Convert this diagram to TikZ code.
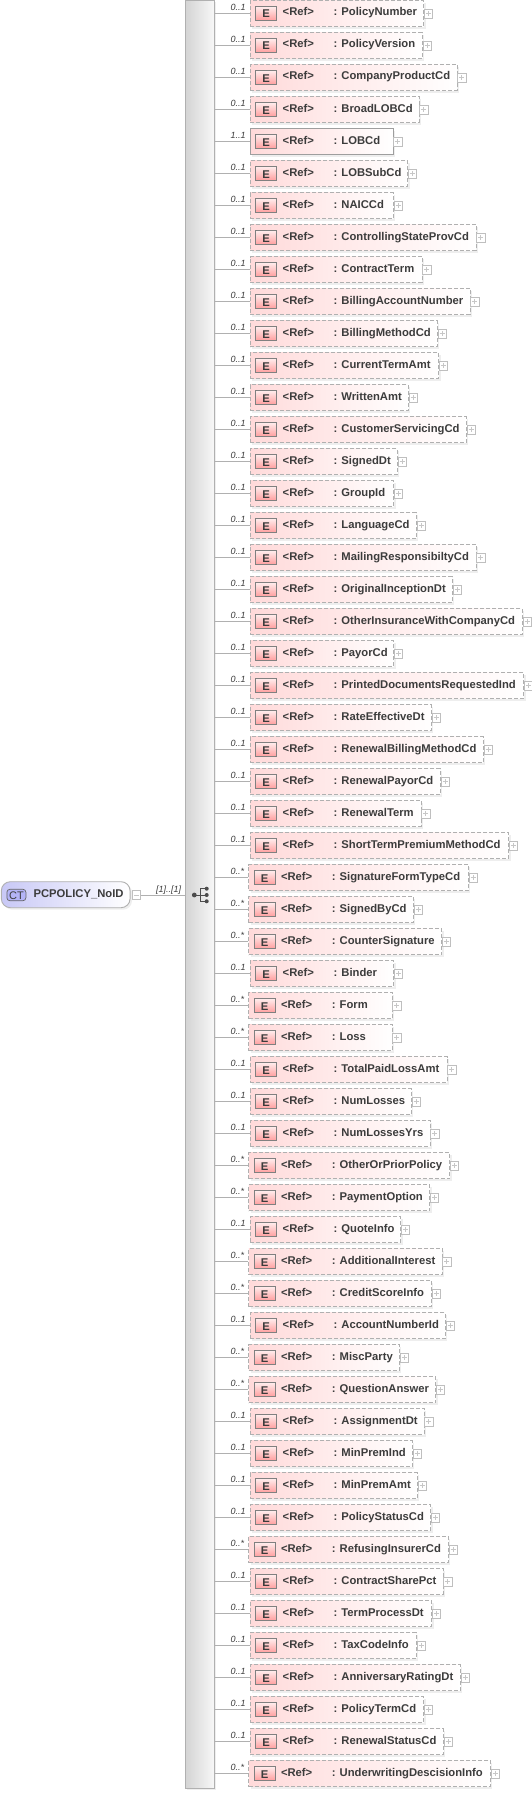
\documentclass[tikz,border=0pt]{standalone}
\usepackage{fontspec}
\setmainfont{Liberation Sans}
\usepackage{tikz}
\usetikzlibrary{shadows}
\definecolor{inktext}{HTML}{3C3C3C}
\definecolor{linegray}{HTML}{B0B0B0}
\definecolor{shadowgray}{HTML}{EEEEEE}
\definecolor{elpink}{HTML}{FFDADA}
\definecolor{ctblue}{HTML}{C8C8F6}
\tikzset{
    boldtext/.style={font=\fontsize{11.25}{13}\selectfont\bfseries, text=inktext, inner sep=0pt},
    multtext/.style={font=\fontsize{9}{11}\selectfont\itshape, text=inktext, inner sep=0pt},
    seqbar/.style={draw=linegray, line width=0.9pt, left color=black!17, right color=black!3, minimum width=29, minimum height=1788, inner sep=0pt,
        general shadow={fill=shadowgray, shadow xshift=2pt, shadow yshift=-2pt}},
    elbase/.style={draw=linegray, line width=0.9pt, left color=elpink, right color=white, minimum height=26, inner sep=0pt, anchor=west,
        general shadow={fill=shadowgray, shadow xshift=2pt, shadow yshift=-2pt}},
    elopt/.style={elbase, dash pattern=on 4pt off 2pt},
    elreq/.style={elbase, draw=black!38},
    ebox/.style={draw=black!50, line width=0.7pt, top color=red!6, bottom color=red!38, minimum width=21, minimum height=14.5, inner sep=0pt},
    plusbox/.style={draw=black!25, fill=white, line width=0.7pt, minimum size=8.5, inner sep=0pt, anchor=west},
    signline/.style={draw=black!22, line width=0.7pt},
    connline/.style={draw=linegray, line width=0.8pt},
}
\begin{document}
\begin{tikzpicture}[x=1pt, y=-1pt]
    \useasboundingbox (0,0) rectangle (532,1793);

    \node[seqbar] (seq) at (199.8,894.3) {};

    \foreach \elname/\mult/\lft/\rgt/\sty [count=\i from 0] in {
        PolicyNumber/0..1/250/423.3/elopt,
        PolicyVersion/0..1/250/422/elopt,
        CompanyProductCd/0..1/250/456.7/elopt,
        BroadLOBCd/0..1/250/418.7/elopt,
        LOBCd/1..1/250/392.7/elreq,
        LOBSubCd/0..1/250/407.3/elopt,
        NAICCd/0..1/250/393/elopt,
        ControllingStateProvCd/0..1/250/475.7/elopt,
        ContractTerm/0..1/250/421.7/elopt,
        BillingAccountNumber/0..1/250/469.7/elopt,
        BillingMethodCd/0..1/250/437/elopt,
        CurrentTermAmt/0..1/250/438.3/elopt,
        WrittenAmt/0..1/250/408/elopt,
        CustomerServicingCd/0..1/250/466/elopt,
        SignedDt/0..1/250/397/elopt,
        GroupId/0..1/250/393.3/elopt,
        LanguageCd/0..1/250/416/elopt,
        MailingResponsibiltyCd/0..1/250/475.7/elopt,
        OriginalInceptionDt/0..1/250/452/elopt,
        OtherInsuranceWithCompanyCd/0..1/250/522/elopt,
        PayorCd/0..1/250/393.3/elopt,
        PrintedDocumentsRequestedInd/0..1/250/523.3/elopt,
        RateEffectiveDt/0..1/250/431/elopt,
        RenewalBillingMethodCd/0..1/250/483/elopt,
        RenewalPayorCd/0..1/250/440/elopt,
        RenewalTerm/0..1/250/420.7/elopt,
        ShortTermPremiumMethodCd/0..1/250/508.3/elopt,
        SignatureFormTypeCd/0..*/248.3/468/elopt,
        SignedByCd/0..*/248.3/413/elopt,
        CounterSignature/0..*/248.3/441.3/elopt,
        Binder/0..1/250/393.3/elopt,
        Form/0..*/248.3/391.7/elopt,
        Loss/0..*/248.3/391.7/elopt,
        TotalPaidLossAmt/0..1/250/446.7/elopt,
        NumLosses/0..1/250/411/elopt,
        NumLossesYrs/0..1/250/429.7/elopt,
        OtherOrPriorPolicy/0..*/248.3/449.3/elopt,
        PaymentOption/0..*/248.3/429.3/elopt,
        QuoteInfo/0..1/250/400.3/elopt,
        AdditionalInterest/0..*/248.3/441.7/elopt,
        CreditScoreInfo/0..*/248.3/431/elopt,
        AccountNumberId/0..1/250/445/elopt,
        MiscParty/0..*/248.3/399/elopt,
        QuestionAnswer/0..*/248.3/435.3/elopt,
        AssignmentDt/0..1/250/423.7/elopt,
        MinPremInd/0..1/250/412/elopt,
        MinPremAmt/0..1/250/417/elopt,
        PolicyStatusCd/0..1/250/430.3/elopt,
        RefusingInsurerCd/0..*/248.3/448/elopt,
        ContractSharePct/0..1/250/442.7/elopt,
        TermProcessDt/0..1/250/431.3/elopt,
        TaxCodeInfo/0..1/250/416/elopt,
        AnniversaryRatingDt/0..1/250/460/elopt,
        PolicyTermCd/0..1/250/423.3/elopt,
        RenewalStatusCd/0..1/250/443/elopt,
        UnderwritingDescisionInfo/0..*/248.3/490/elopt%
    } {
        \pgfmathsetmacro{\liney}{14+32*\i}
        \node[\sty, minimum width=\rgt-\lft] (el\i) at (\lft,\liney-0.3) {};
        \draw[connline] (seq.east |- el\i.west) -- (el\i.west);
        \node[multtext, anchor=base west] (mu\i) at (230.5,\liney-3.3) {\mult};
        \node[ebox] (eb\i) at (\lft+16.2,\liney-0.7) {};
        \node[boldtext, anchor=base] (et\i) at (\lft+16.2,\liney+4) {E};
        \node[boldtext, anchor=base west] (rf\i) at (\lft+32.5,\liney+2) {<Ref>};
        \node[boldtext, anchor=base west] (nm\i) at (\lft+83.3,\liney+2) {: \elname};
        \node[plusbox] (pl\i) at (\rgt+0.5,\liney-0.3) {};
        \draw[signline] (pl\i.center) ++(-2.5,0) -- ++(5,0);
        \draw[signline] (pl\i.center) ++(0,-2.5) -- ++(0,5);
    }

    \node[draw=linegray, line width=0.9pt, left color=ctblue, right color=white, rounded corners=9, minimum width=128.7, minimum height=26, inner sep=0pt,
        general shadow={fill=shadowgray, shadow xshift=2pt, shadow yshift=-2pt}] (ct) at (65.7,894.7) {};
    \node[draw=black!60, line width=0.7pt, fill=ctblue!90!blue, rounded corners=3, minimum width=19, minimum height=11.5, inner sep=0pt] (ctbox) at (16.4,895) {};
    \node[font=\fontsize{11}{13}\selectfont, text=inktext, inner sep=0pt, anchor=base] (cttext) at (16.4,899) {CT};
    \node[boldtext, anchor=base west] (ctname) at (33.3,897) {PCPOLICY\_NoID};
    \node[plusbox] (mn) at (131.7,895) {};
    \draw[signline] (mn.center) ++(-2.5,0) -- ++(5,0);
    \draw[connline] (mn.east) -- (mn.east -| seq.west);
    \node[multtext, anchor=base west] (rng) at (156,892.5) {[1]..[1]};

    \draw[line width=1pt, draw=black!70] (194.3,895) -- (200.2,895);
    \draw[line width=1pt, draw=black!70] (206.7,888.7) -- (200.2,888.7) -- (200.2,901.3) -- (206.7,901.3);
    \draw[line width=1pt, draw=black!70] (200.2,895) -- (206.7,895);
    \fill[black!70] (194.3,895) circle (2.4);
    \fill[black!70] (206.7,888.7) circle (2);
    \fill[black!70] (206.7,895) circle (2);
    \fill[black!70] (206.7,901.3) circle (2);
\end{tikzpicture}
\end{document}
